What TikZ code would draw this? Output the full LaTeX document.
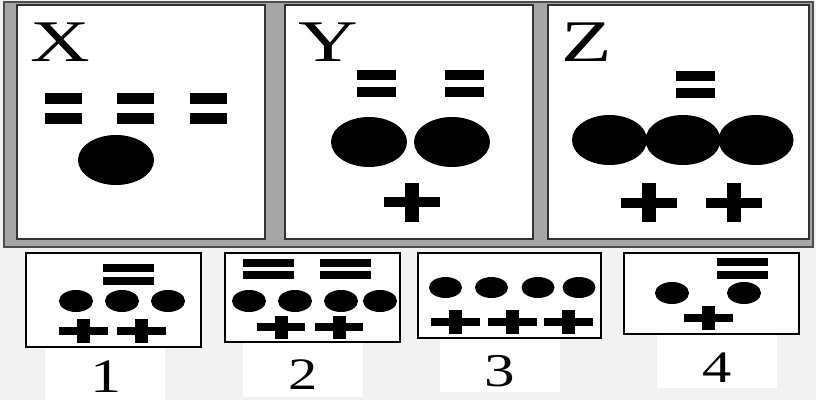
\documentclass[tikz,border=0pt]{standalone}
\usepackage{fontspec}
\setmainfont{Liberation Serif}
\definecolor{bgc}{HTML}{F2F2F2}
\definecolor{panelc}{HTML}{A6A6A6}
\definecolor{panelb}{HTML}{4D4D4D}
\definecolor{boxb}{HTML}{333333}
\newcommand\EqPair[5]{%
  \fill ({#1-#2/2},#3) rectangle ({#1+#2/2},{#3+#5});
  \fill ({#1-#2/2},#4) rectangle ({#1+#2/2},{#4+#5});}
\newcommand\PlusSign[6]{%
  \fill ({#1-#3/2},{#2-#5/2}) rectangle ({#1+#3/2},{#2+#5/2});
  \fill ({#1-#6/2},{#2-#4/2}) rectangle ({#1+#6/2},{#2+#4/2});}
\tikzset{
  bigletter/.style={font=\fontsize{59}{59}\selectfont, xscale=1.4, inner sep=0pt, anchor=south},
  digit/.style={xscale=1.3, inner sep=0pt, anchor=south},
  bigbox/.style={fill=white, draw=boxb, line width=2pt},
  smallbox/.style={fill=white, draw=black, line width=1.5pt},
  labelbg/.style={fill=white, draw=none},
}
\begin{document}
\begin{tikzpicture}[x=1pt,y=-1pt]
\useasboundingbox (0,0) rectangle (816,400);
\fill[bgc] (0,0) rectangle (816,400);
% top panel
\draw[fill=panelc, draw=panelb, line width=2pt] (4,2) rectangle (813,247);
\draw[bigbox] (17,5) rectangle (265,239);
\draw[bigbox] (285,5) rectangle (533,239);
\draw[bigbox] (548,5) rectangle (809,239);
\node[bigletter] (X) at (60,62) {X};
\node[bigletter] (Y) at (328,62) {Y};
\node[bigletter] (Z) at (586.5,62) {Z};
% X content
\EqPair{63.5}{37}{93}{113}{10.5}
\EqPair{135}{37}{93}{113}{10.5}
\EqPair{208.5}{37}{93}{113}{10.5}
\fill (116,160) ellipse [x radius=38, y radius=25];
% Y content
\EqPair{376.5}{39}{70}{87}{10}
\EqPair{464.5}{39}{70}{87}{10}
\fill (369,142) ellipse [x radius=38, y radius=25];
\fill (452,142) ellipse [x radius=38, y radius=25];
\PlusSign{412}{202}{56}{39}{10}{14}
% Z content
\EqPair{695.5}{39}{71}{88}{10}
\fill (609.5,140) ellipse [x radius=37.5, y radius=25];
\fill (683,140) ellipse [x radius=37.5, y radius=25];
\fill (756,140) ellipse [x radius=37.5, y radius=25];
\PlusSign{649}{202.5}{56}{39}{10}{14}
\PlusSign{733.5}{202.5}{56}{39}{10}{14}
% label backgrounds
\fill[labelbg] (45,347) rectangle (165,400);
\fill[labelbg] (243,342) rectangle (363,397);
\fill[labelbg] (440,338) rectangle (560,392);
\fill[labelbg] (657,334) rectangle (777,388);
% bottom boxes
\draw[smallbox] (26,253) rectangle (201,347);
\draw[smallbox] (225,253) rectangle (400,342);
\draw[smallbox] (418,253) rectangle (601,338);
\draw[smallbox] (624,253) rectangle (799,334);
% box 1
\EqPair{128.5}{51}{264}{277}{7.5}
\fill (76,301) ellipse [x radius=17, y radius=11];
\fill (122,301) ellipse [x radius=17, y radius=11];
\fill (168,301) ellipse [x radius=17, y radius=11];
\PlusSign{83}{331}{49}{24}{8}{13}
\PlusSign{141}{331}{49}{24}{8}{13}
% box 2
\EqPair{268.5}{51}{259}{271}{7.5}
\EqPair{345}{51}{259}{271}{7.5}
\fill (249,301) ellipse [x radius=17, y radius=11];
\fill (295,301) ellipse [x radius=17, y radius=11];
\fill (341,301) ellipse [x radius=17, y radius=11];
\fill (380,301) ellipse [x radius=17, y radius=11];
\PlusSign{281}{327}{48}{23}{8}{13}
\PlusSign{339}{327}{48}{23}{8}{13}
% box 3
\fill (445.5,287.5) ellipse [x radius=16.5, y radius=10.5];
\fill (491.5,287.5) ellipse [x radius=16.5, y radius=10.5];
\fill (538,287.5) ellipse [x radius=16.5, y radius=10.5];
\fill (579,287.5) ellipse [x radius=16.5, y radius=10.5];
\PlusSign{455}{322}{49}{24}{8}{13}
\PlusSign{512}{322}{49}{24}{8}{13}
\PlusSign{568}{322}{49}{24}{8}{13}
% box 4
\EqPair{742.5}{51}{258}{271}{7.5}
\fill (672,293) ellipse [x radius=17, y radius=11];
\fill (744,293) ellipse [x radius=17, y radius=11];
\PlusSign{708}{318}{49}{24}{8}{13}
% labels
\node[digit, font=\fontsize{48}{48}\selectfont] (l1) at (106.5,393) {1};
\node[digit, font=\fontsize{45}{45}\selectfont] (l2) at (303,390) {2};
\node[digit, font=\fontsize{47}{47}\selectfont] (l3) at (500,387) {3};
\node[digit, font=\fontsize{45}{45}\selectfont] (l4) at (717.5,383) {4};
\end{tikzpicture}
\end{document}
